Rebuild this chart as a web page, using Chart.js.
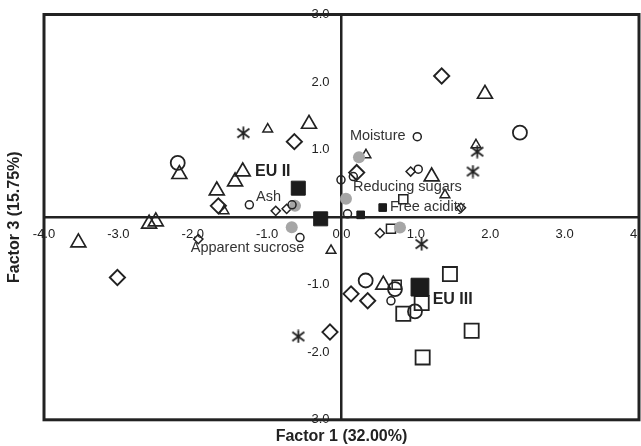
<!DOCTYPE html>
<html><head><meta charset="utf-8">
<script src="https://cdn.jsdelivr.net/npm/chart.js@4/dist/chart.umd.min.js"></script>
<style>html,body{margin:0;padding:0;background:#fff}</style>
</head><body>
<canvas id="c" width="641" height="446"></canvas>
<script>
// ---- data ----
const xTickValues = [-4, -3, -2, -1, 0, 1, 2, 3, 4];
const xTickLabels = ['-4.0', '-3.0', '-2.0', '-1.0', '0.0', '1.0', '2.0', '3.0', '4.0'];
const yTickValues = [-3, -2, -1, 0, 1, 2, 3];
const yTickLabels = ['-3.0', '-2.0', '-1.0', '', '1.0', '2.0', '3.0'];

const bigTriX = [-0.437, -1.328, -1.431, -1.677, -2.180, -2.587, -2.497, -3.538, 1.929, 1.212, 0.562];
const bigTriY = [1.380, 0.675, 0.527, 0.393, 0.636, -0.099, -0.065, -0.376, 1.824, 0.601, -1.001];
const smallTriX = [-0.992, -1.579, -0.141, 0.329, 1.391, 1.808];
const smallTriY = [1.302, 0.093, -0.494, 0.922, 0.330, 1.070];
const bigCircX = [-2.202, 2.399, 0.325, 0.719, 0.988];
const bigCircY = [0.803, 1.251, -0.938, -1.065, -1.396];
const smallCircX = [1.019, 0.159, -0.007, 1.032, 0.081, -1.239, -0.665, -0.558, 0.665];
const smallCircY = [1.192, 0.601, 0.552, 0.710, 0.049, 0.182, 0.182, -0.302, -1.238];
const bigDiaX = [-0.634, 1.347, 0.204, -1.656, -3.013, 0.128, 0.352, -0.155];
const bigDiaY = [1.118, 2.090, 0.660, 0.167, -0.893, -1.135, -1.238, -1.701];
const smallDiaX = [0.930, 1.606, -0.884, -0.737, -1.925, 0.517];
const smallDiaY = [0.675, 0.138, 0.093, 0.123, -0.325, -0.237];
const bigSqX = [1.458, 1.078, 0.831, 1.750, 1.091];
const bigSqY = [-0.843, -1.272, -1.430, -1.682, -2.077];
const smallSqX = [0.742, 0.831, 0.665];
const smallSqY = [-1.001, 0.266, -0.173];
const asteriskX = [-1.320, -0.581, 1.078, 1.825, 1.767];
const asteriskY = [1.243, -1.766, -0.399, 0.970, 0.675];
const centroidX = [-0.581, -0.280];
const centroidY = [0.429, -0.025];
const euIIIX = [1.055];
const euIIIY = [-1.036];
const smallFilledX = [0.554, 0.258];
const smallFilledY = [0.142, 0.034];
const variableNames = ['Moisture', 'Reducing sugars', 'Ash', 'Apparent sucrose', 'Free acidity'];
const variableX = [0.235, 0.060, -0.625, -0.669, 0.786];
const variableY = [0.888, 0.271, 0.167, -0.148, -0.154];

// text labels in data units (left edge, vertical middle)
const labelTexts = ['Moisture', 'Reducing sugars', 'Free acidity', 'Ash', 'Apparent sucrose', 'EU II', 'EU III'];
const labelX = [0.114, 0.155, 0.652, -1.149, -2.027, -1.163, 1.226];
const labelY = [1.203, 0.444, 0.145, 0.296, -0.459, 0.675, -1.216];
const labelBold = [false, false, false, false, false, true, true];

// ---- build ----
const FONT = "'Liberation Sans', Arial, Helvetica, sans-serif";
const INK = '#222222';
const pts = (xs, ys) => xs.map((v, i) => ({x: v, y: ys[i]}));

function makeAsterisk(w, h, lw) {
  const c = document.createElement('canvas');
  c.width = w; c.height = h;
  const g = c.getContext('2d');
  g.strokeStyle = INK; g.lineWidth = lw;
  g.beginPath();
  g.moveTo(w / 2, 0.5); g.lineTo(w / 2, h - 0.5);
  g.moveTo(1.5, 2.5); g.lineTo(w - 1.5, h - 2.5);
  g.moveTo(w - 1.5, 2.5); g.lineTo(1.5, h - 2.5);
  g.stroke();
  return c;
}
const asteriskImg = makeAsterisk(15, 14, 1.8);

function openSet(label, xs, ys, style, r, bw, order) {
  return {label, data: pts(xs, ys), pointStyle: style, pointRadius: r, pointBorderWidth: bw,
    borderColor: INK, pointBorderColor: INK, backgroundColor: 'rgba(0,0,0,0)',
    pointBackgroundColor: 'rgba(0,0,0,0)', showLine: false, order};
}

const datasets = [
  openSet('big triangles', bigTriX, bigTriY, 'triangle', 8.6, 1.7, 5),
  openSet('small triangles', smallTriX, smallTriY, 'triangle', 5.6, 1.5, 5),
  openSet('big circles', bigCircX, bigCircY, 'circle', 7, 1.8, 5),
  openSet('small circles', smallCircX, smallCircY, 'circle', 4, 1.5, 3),
  openSet('big diamonds', bigDiaX, bigDiaY, 'rectRot', 7.6, 1.9, 5),
  openSet('small diamonds', smallDiaX, smallDiaY, 'rectRot', 4.6, 1.5, 5),
  openSet('big squares', bigSqX, bigSqY, 'rect', 10, 1.8, 5),
  openSet('small squares', smallSqX, smallSqY, 'rect', 6.4, 1.5, 5),
  {label: 'asterisks', data: pts(asteriskX, asteriskY), pointStyle: asteriskImg, pointRadius: 7, showLine: false, order: 5},
  {label: 'variables', data: pts(variableX, variableY), pointStyle: 'circle', pointRadius: 6,
    pointBorderWidth: 0, pointBackgroundColor: '#a6a6a6', backgroundColor: '#a6a6a6', borderColor: '#a6a6a6', showLine: false, order: 4},
  {label: 'centroids', data: pts(centroidX, centroidY), pointStyle: 'rect', pointRadius: 9.9,
    pointBorderWidth: 1, pointBackgroundColor: '#1c1c1c', pointBorderColor: '#1c1c1c', showLine: false, order: 1},
  {label: 'EU III', data: pts(euIIIX, euIIIY), pointStyle: 'rect', pointRadius: 12.6,
    pointBorderWidth: 1, pointBackgroundColor: '#1c1c1c', pointBorderColor: '#1c1c1c', showLine: false, order: 1},
  {label: 'small filled', data: pts(smallFilledX, smallFilledY), pointStyle: 'rect', pointRadius: 5.4,
    pointBorderWidth: 1, pointBackgroundColor: '#1c1c1c', pointBorderColor: '#1c1c1c', showLine: false, order: 1}
];

const frameAndLabels = {
  id: 'frameAndLabels',
  afterDatasetsDraw(chart) {
    const {ctx, chartArea: a, scales: {x, y}} = chart;
    ctx.save();
    ctx.textBaseline = 'middle';
    ctx.textAlign = 'left';
    labelTexts.forEach((t, i) => {
      ctx.font = labelBold[i] ? `bold 16px ${FONT}` : `14.5px ${FONT}`;
      ctx.fillStyle = labelBold[i] ? INK : '#333333';
      ctx.fillText(t, x.getPixelForValue(labelX[i]), y.getPixelForValue(labelY[i]));
    });
    ctx.strokeStyle = INK;
    ctx.lineWidth = 3;
    ctx.strokeRect(a.left, a.top, a.right - a.left, a.bottom - a.top);
    ctx.restore();
  }
};

const noPad = s => { s.paddingLeft = 0; s.paddingRight = 0; s.paddingTop = 0; s.paddingBottom = 0; };
const tickFont = {family: FONT, size: 13};
new Chart(document.getElementById('c'), {
  type: 'scatter',
  data: {datasets},
  plugins: [frameAndLabels],
  options: {
    responsive: false,
    animation: false,
    events: [],
    layout: {autoPadding: false, padding: {left: 0, right: 2, top: 14.5, bottom: 0}},
    plugins: {
      legend: {display: false},
      tooltip: {enabled: false},
      title: {display: true, position: 'left', fullSize: false, text: 'Factor 3 (15.75%)', color: INK,
        font: {family: FONT, size: 16, weight: 'bold'}, padding: {top: 5.4, bottom: 19.4}},
      subtitle: {display: true, position: 'bottom', fullSize: false, text: 'Factor 1 (32.00%)', color: INK,
        font: {family: FONT, size: 16, weight: 'bold'}, padding: {top: 7, bottom: 0}}
    },
    scales: {
      x: {
        type: 'linear', min: -4, max: 4, position: {y: 0},
        grid: {display: false, drawTicks: false},
        border: {display: true, color: INK, width: 2.5},
        afterBuildTicks: s => { s.ticks = xTickValues.map(v => ({value: v})); },
        afterFit: noPad,
        ticks: {autoSkip: false, maxRotation: 0, padding: 9, color: INK, font: tickFont,
          callback: v => xTickLabels[xTickValues.indexOf(v)]}
      },
      y: {
        type: 'linear', min: -3, max: 3, position: {x: 0},
        grid: {display: false, drawTicks: false},
        border: {display: true, color: INK, width: 2.5},
        afterFit: noPad,
        ticks: {display: false}
      },
      yLabels: {
        type: 'linear', axis: 'y', min: -3, max: 3, position: {x: -0.16},
        grid: {display: false, drawTicks: false},
        border: {display: false},
        afterBuildTicks: s => { s.ticks = yTickValues.map(v => ({value: v})); },
        afterFit: noPad,
        ticks: {autoSkip: false, padding: 0, color: INK, font: tickFont,
          callback: v => yTickLabels[yTickValues.indexOf(v)]}
      }
    }
  }
});
</script>
</body></html>
